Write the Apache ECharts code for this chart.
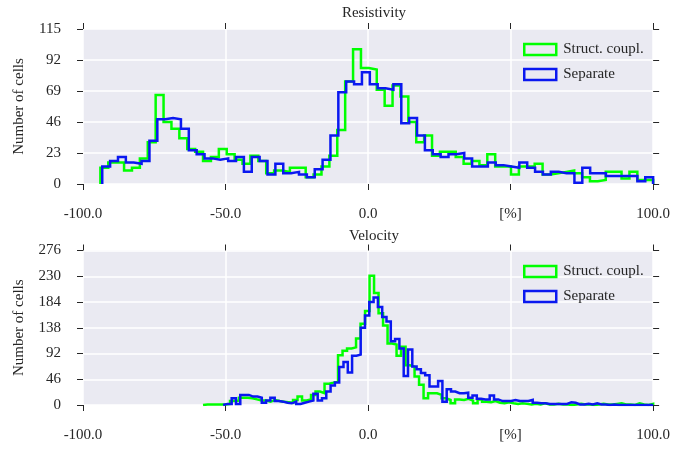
<!DOCTYPE html>
<html>
<head>
<meta charset="utf-8">
<script src="https://cdn.jsdelivr.net/npm/echarts@6/dist/echarts.min.js"></script>
<style>
  html, body { margin: 0; padding: 0; background: #ffffff; }
  #chart { width: 673px; height: 449px; }
</style>
</head>
<body>
<div id="chart"></div>
<script>
// Histogram of relative differences per cell: resistivity (top) and velocity (bottom)
const xTickValues = [-100, -50, 0, 50, 100];
const xTickLabels = ['-100.0', '-50.0', '0.0', '[%]', '100.0'];

const resYTicks = [0, 23, 46, 69, 92, 115];
const velYTicks = [0, 46, 92, 138, 184, 230, 276];

const seriesNames = ['Struct. coupl.', 'Separate'];

// Resistivity histograms: range start, range end, counts per bin
const resCoupledStart = -93.9;
const resCoupledEnd = 100;
const resCoupled = [
  12, 16, 16, 10, 12, 19, 31, 66, 46, 41,
  34, 26, 24, 17, 20, 26, 22, 18, 15, 21,
  17, 8, 10, 9, 12, 12, 5, 7, 13, 21,
  40, 76, 100, 86, 85, 70, 58, 73, 65, 46,
  31, 36, 21, 24, 24, 20, 15, 17, 14, 22,
  13, 13, 7, 13, 13, 15, 7, 8, 9, 10,
  8, 5, 2, 3, 9, 9, 4, 9, 3, 3
];
const resSeparateStart = -93.25;
const resSeparateEnd = 100;
const resSeparate = [
  13, 17, 20, 16, 15, 17, 32, 48, 49, 48,
  41, 25, 22, 19, 18, 19, 17, 20, 9, 20,
  17, 7, 15, 8, 9, 7, 5, 11, 18, 36,
  68, 76, 74, 83, 74, 71, 70, 74, 45, 49,
  36, 25, 22, 20, 22, 23, 19, 13, 13, 16,
  14, 13, 12, 16, 12, 9, 7, 9, 8, 8,
  1, 12, 8, 8, 6, 6, 6, 6, 2, 5
];

// Velocity histograms
const velCoupledStart = -57.9;
const velCoupledEnd = 100;
const velCoupled = [
  1, 1, 1, 1, 1, 2, 7, 8, 13, 13,
  12, 10, 8, 8, 6, 9, 7, 6, 5, 4,
  9, 15, 8, 10, 18, 24, 21, 38, 40, 43,
  89, 97, 101, 103, 119, 145, 168, 231, 200, 164,
  142, 110, 108, 88, 104, 71, 68, 51, 36, 12,
  21, 21, 18, 12, 9, 3, 10, 9, 11, 8,
  3, 10, 6, 5, 7, 4, 3, 5, 3, 2,
  3, 2, 1, 2, 1, 3, 1, 1, 2, 1,
  1, 0, 1, 2, 1, 1, 0, 1, 2, 1,
  1, 2, 3, 1, 1, 0, 3, 1, 0, 2
];
const velSeparateStart = -50.86;
const velSeparateEnd = 100;
const velSeparate = [
  2, 2, 12, 2, 18, 18, 15, 15, 13, 4,
  8, 13, 7, 6, 4, 3, 6, 2, 4, 6,
  8, 20, 8, 12, 24, 35, 40, 68, 77, 58,
  88, 90, 138, 160, 184, 192, 175, 157, 149, 114,
  118, 101, 52, 99, 69, 64, 57, 53, 33, 33,
  43, 6, 28, 24, 21, 21, 22, 13, 17, 11,
  10, 10, 17, 10, 7, 7, 7, 9, 7, 7,
  7, 9, 4, 3, 3, 2, 2, 2, 2, 2,
  5, 4, 1, 1, 2, 1, 3, 1, 1, 0,
  1, 0, 0, 0, 0, 0, 0, 0, 0, 0
];

const GREEN = '#00ff00';
const BLUE = '#0a18f0';
const SERIF = '"Liberation Serif", "DejaVu Serif", serif';
const TEXT = '#262626';

// Outline of a step histogram from its bin range and counts
function stepOutline(start, end, counts) {
  const w = (end - start) / counts.length;
  const pts = [[start, 0]];
  counts.forEach(function (c, i) {
    pts.push([start + i * w, c]);
    pts.push([start + (i + 1) * w, c]);
  });
  pts.push([end, 0]);
  return pts;
}

function xLabel(v) {
  const i = xTickValues.indexOf(v);
  return i >= 0 ? xTickLabels[i] : '';
}

const grids = [
  { left: 83, right: 19, top: 29, height: 155, show: true, backgroundColor: '#EAEAF2', borderWidth: 0 },
  { left: 83, right: 19, top: 250.5, height: 154.5, show: true, backgroundColor: '#EAEAF2', borderWidth: 0 }
];

const tickStyle = { show: true, inside: false, length: 6, lineStyle: { color: TEXT, width: 1 } };

function bottomX(gi) {
  return {
    type: 'value', gridIndex: gi, position: 'bottom',
    min: xTickValues[0], max: xTickValues[xTickValues.length - 1], interval: 50,
    axisLine: { show: false, onZero: false },
    axisTick: tickStyle,
    axisLabel: { margin: 23, formatter: xLabel, fontFamily: SERIF, fontSize: 15, color: TEXT },
    splitLine: { show: true, lineStyle: { color: '#ffffff', width: 1.5 } }
  };
}
function topX(gi) {
  return {
    type: 'value', gridIndex: gi, position: 'top',
    min: xTickValues[0], max: xTickValues[xTickValues.length - 1], interval: 50,
    axisLine: { show: false, onZero: false },
    axisTick: tickStyle,
    axisLabel: { show: false },
    splitLine: { show: false }
  };
}
function leftY(gi, ticks) {
  return {
    type: 'value', gridIndex: gi, position: 'left',
    min: ticks[0], max: ticks[ticks.length - 1], interval: ticks[1] - ticks[0],
    name: 'Number of cells', nameLocation: 'middle', nameGap: 56, nameRotate: 90,
    nameTextStyle: { fontFamily: SERIF, fontSize: 15, color: TEXT },
    axisLine: { show: false, onZero: false },
    axisTick: tickStyle,
    axisLabel: { margin: 22, fontFamily: SERIF, fontSize: 15, color: TEXT },
    splitLine: { show: true, lineStyle: { color: '#ffffff', width: 1.5 } }
  };
}
function rightY(gi, ticks) {
  return {
    type: 'value', gridIndex: gi, position: 'right',
    min: ticks[0], max: ticks[ticks.length - 1], interval: ticks[1] - ticks[0],
    axisLine: { show: false, onZero: false },
    axisTick: tickStyle,
    axisLabel: { show: false },
    splitLine: { show: false }
  };
}

function histSeries(name, color, xi, yi, pts, z) {
  return {
    type: 'line', name: name, xAxisIndex: xi, yAxisIndex: yi,
    data: pts, showSymbol: false, symbol: 'none', clip: true, z: z,
    lineStyle: { color: color, width: 2.5, join: 'miter' },
    itemStyle: { color: color }
  };
}

function legendFor(top) {
  return {
    orient: 'vertical', left: 518, top: top, itemWidth: 32, itemHeight: 11, itemGap: 10,
    selectedMode: false,
    textStyle: { fontFamily: SERIF, fontSize: 15, color: TEXT, padding: [0, 0, 0, 2] },
    data: [
      { name: seriesNames[0], icon: 'rect', itemStyle: { color: '#EAEAF2', borderColor: GREEN, borderWidth: 2.5 } },
      { name: seriesNames[1], icon: 'rect', itemStyle: { color: '#EAEAF2', borderColor: BLUE, borderWidth: 2.5 } }
    ]
  };
}

const chart = echarts.init(document.getElementById('chart'), null, { renderer: 'canvas' });
chart.setOption({
  animation: false,
  backgroundColor: '#ffffff',
  title: [
    { text: 'Resistivity', left: 369, top: 1, textAlign: 'center',
      textStyle: { fontFamily: SERIF, fontSize: 15, fontWeight: 'normal', color: TEXT } },
    { text: 'Velocity', left: 369, top: 224, textAlign: 'center',
      textStyle: { fontFamily: SERIF, fontSize: 15, fontWeight: 'normal', color: TEXT } }
  ],
  legend: [legendFor(37), legendFor(259)],
  grid: grids,
  xAxis: [bottomX(0), topX(0), bottomX(1), topX(1)],
  yAxis: [leftY(0, resYTicks), rightY(0, resYTicks), leftY(1, velYTicks), rightY(1, velYTicks)],
  series: [
    histSeries(seriesNames[0], GREEN, 0, 0, stepOutline(resCoupledStart, resCoupledEnd, resCoupled), 2),
    histSeries(seriesNames[1], BLUE, 0, 0, stepOutline(resSeparateStart, resSeparateEnd, resSeparate), 3),
    histSeries(seriesNames[0], GREEN, 2, 2, stepOutline(velCoupledStart, velCoupledEnd, velCoupled), 2),
    histSeries(seriesNames[1], BLUE, 2, 2, stepOutline(velSeparateStart, velSeparateEnd, velSeparate), 3)
  ]
});
</script>
</body>
</html>
